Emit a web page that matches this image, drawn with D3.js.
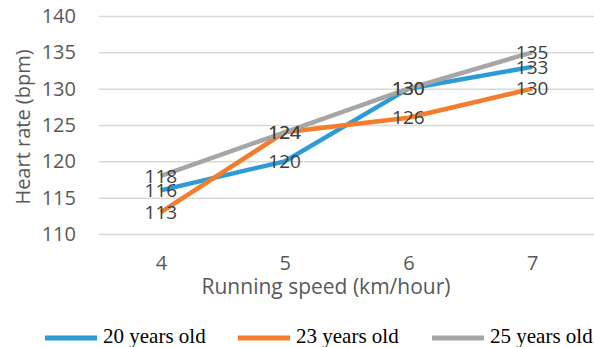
<!DOCTYPE html>
<html>
<head>
<meta charset="utf-8">
<script src="https://cdn.jsdelivr.net/npm/d3@7"></script>
<style>
  body { margin: 0; background: #fff; }
  text { font-family: "Open Sans", sans-serif; }
</style>
</head>
<body>
<svg width="594" height="347"></svg>
<script>
const speeds = [4, 5, 6, 7];
const seriesNames = ['20 years old', '23 years old', '25 years old'];
const age20 = [116, 120, 130, 133];
const age23 = [113, 124, 126, 130];
const age25 = [118, 124, 130, 135];
const yTicks = [110, 115, 120, 125, 130, 135, 140];
const colors = ['#2d9bd8', '#f57c2b', '#a6a6a6'];

const svg = d3.select('svg');
const width = +svg.attr('width');
const height = +svg.attr('height');

const margin = {top: 16, right: 0, bottom: 113, left: 99};
const innerwidth = width - margin.left - margin.right;
const innerheight = height - margin.top - margin.bottom;

const g = svg.append('g')
    .attr('transform', 'translate(' + margin.left + ',' + margin.top + ')');

const xscale = d3.scalePoint()
    .domain(speeds)
    .range([0, innerwidth])
    .padding(0.5);

const yscale = d3.scaleLinear()
    .domain([110, 140])
    .range([innerheight, 0]);

// gridlines + y labels
const yaxisG = g.append('g').call(d3.axisLeft(yscale)
    .tickValues(yTicks).tickSize(-innerwidth).tickPadding(23));
yaxisG.select('.domain').remove();
yaxisG.selectAll('.tick line').attr('stroke', '#d9d9d9').attr('stroke-width', 1.5);
yaxisG.selectAll('.tick text')
    .attr('fill', '#595959').style('font-size', '20px');

const xaxisG = g.append('g').call(d3.axisBottom(xscale).tickSize(0).tickPadding(22))
    .attr('transform', 'translate(0,' + innerheight + ')');
xaxisG.select('.domain').remove();
xaxisG.selectAll('.tick text')
    .attr('fill', '#595959').style('font-size', '20px');

svg.append('text')
    .attr('x', 326)
    .attr('y', 294)
    .attr('text-anchor', 'middle')
    .attr('fill', '#595959')
    .style('font-size', '21px')
    .text('Running speed (km/hour)');

svg.append('text')
    .attr('transform', 'translate(30,127) rotate(-90)')
    .attr('text-anchor', 'middle')
    .attr('fill', '#595959')
    .style('font-size', '20px')
    .text('Heart rate (bpm)');

const allSeries = [age20, age23, age25];
const line = d3.line()
    .x((d, i) => xscale(speeds[i]))
    .y(d => yscale(d));

allSeries.forEach((s, k) => {
    g.append('path')
        .datum(s)
        .attr('d', line)
        .attr('fill', 'none')
        .attr('stroke', colors[k])
        .attr('stroke-width', 4.5);
});

allSeries.forEach((s, k) => {
    g.selectAll('.lbl' + k)
        .data(s)
        .enter()
        .append('text')
        .attr('x', (d, i) => xscale(speeds[i]))
        .attr('y', d => yscale(d))
        .attr('dy', '0.35em')
        .attr('text-anchor', 'middle')
        .attr('fill', '#404040')
        .style('font-size', '19px')
        .text(d => d);
});

// legend
const legendX = [45, 238, 432];
seriesNames.forEach((name, k) => {
    const lg = svg.append('g').attr('transform', 'translate(' + legendX[k] + ',338)');
    lg.append('line')
        .attr('x1', 0).attr('x2', 52)
        .attr('stroke', colors[k]).attr('stroke-width', 5);
    lg.append('text')
        .attr('x', 58)
        .attr('dy', '0.22em')
        .attr('fill', '#000')
        .style('font-family', '"Liberation Serif", serif')
        .style('font-size', '21px')
        .text(name);
});
</script>
</body>
</html>
